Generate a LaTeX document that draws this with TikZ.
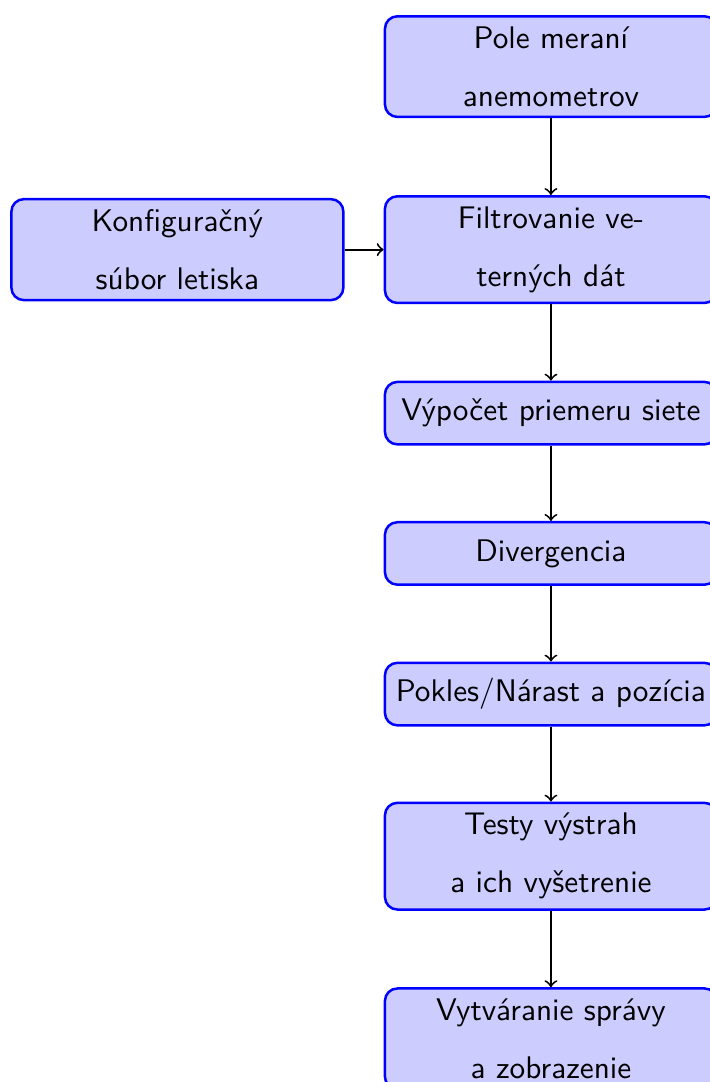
\documentclass[tikz,border=0pt]{standalone}
\usepackage{fontspec}
\usetikzlibrary{positioning}
\tikzset{
  stepbox/.style={draw=blue, thick, fill=blue!20, rounded corners=4pt,
    text width=3.5cm, align=center, minimum height=20pt, inner sep=3.33pt,
    font=\sffamily\fontsize{10pt}{18.5pt}\selectfont},
  flow/.style={->, black, semithick}
}
\begin{document}
\begin{tikzpicture}
\useasboundingbox (0,0) rectangle (227.2pt,-346.24pt);
\clip (0,0) rectangle (227.2pt,-346.24pt);
\node[stepbox, anchor=north] (pole) at (176.3pt,-4.8pt) {Pole meraní\\anemometrov};
\node[stepbox, anchor=north] (filt) at (176.3pt,-62.4pt) {Filtrovanie ve-\\terných dát};
\node[stepbox, left=12.5pt of filt] (konf) {Konfiguračný\\súbor letiska};
\node[stepbox, anchor=north] (vyp) at (176.3pt,-121.8pt) {Výpočet priemeru siete};
\node[stepbox, anchor=north] (div) at (176.3pt,-166.7pt) {Divergencia};
\node[stepbox, anchor=north] (pok) at (176.3pt,-211.7pt) {Pokles/Nárast a pozícia};
\node[stepbox, anchor=north] (test) at (176.3pt,-256.5pt) {Testy výstrah\\a ich vyšetrenie};
\node[stepbox, anchor=north] (vyt) at (176.3pt,-315.9pt) {Vytváranie správy\\a zobrazenie};
\draw[flow] (pole) -- (filt);
\draw[flow] (konf) -- (filt);
\draw[flow] (filt) -- (vyp);
\draw[flow] (vyp) -- (div);
\draw[flow] (div) -- (pok);
\draw[flow] (pok) -- (test);
\draw[flow] (test) -- (vyt);
\end{tikzpicture}
\end{document}
